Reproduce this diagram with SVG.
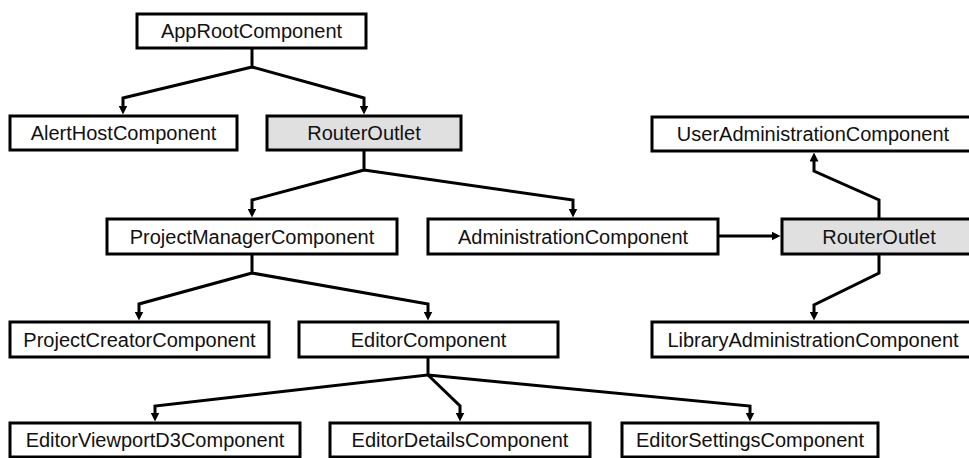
<svg xmlns="http://www.w3.org/2000/svg" width="969" height="458" viewBox="0 0 969 458">
<style>
.box{fill:#fff;stroke:#000;stroke-width:3}
.ro{fill:#e0e0e0;stroke:#000;stroke-width:3}
text{font-family:"Liberation Sans",Arial,sans-serif;font-size:20px;fill:#111;text-anchor:middle;dominant-baseline:central}
.c{fill:none;stroke:#000;stroke-width:3;stroke-linejoin:miter;marker-end:url(#ah)}
</style>
<defs>
<marker id="ah" viewBox="0 0 10 10" markerWidth="9" markerHeight="9" markerUnits="userSpaceOnUse" refX="5" refY="5" orient="auto">
<path d="M0,0 L10,5 L0,10 z" fill="#000"/>
</marker>
</defs>
<rect width="969" height="458" fill="#fff"/>
<g id="connectors">
<polyline class="c" points="252,48 252,67 123,98 123,110"/>
<polyline class="c" points="252,67 364,98 364,110"/>
<polyline class="c" points="364,150 364,170 252,200 252,213"/>
<polyline class="c" points="364,170 573,200 573,213"/>
<polyline class="c" points="718,236 776,236"/>
<polyline class="c" points="879,219 879,200 814,171 814,157"/>
<polyline class="c" points="879,254 879,273 814,305 814,316"/>
<polyline class="c" points="252,254 252,273 139,304 139,316"/>
<polyline class="c" points="252,273 428,304 428,316"/>
<polyline class="c" points="428,357 428,375 155,406 155,417"/>
<polyline class="c" points="428,375 460,406 460,417"/>
<polyline class="c" points="428,375 750,406 750,417"/>
</g>
<g id="appRoot"><rect class="box" x="137" y="14" width="229" height="34"/><text x="251.5" y="31">AppRootComponent</text></g>
<g id="alertHost"><rect class="box" x="10" y="116" width="227" height="34"/><text x="123.5" y="133">AlertHostComponent</text></g>
<g id="routerOutlet1"><rect class="ro" x="267" y="116" width="194" height="34"/><text x="364" y="133">RouterOutlet</text></g>
<g id="userAdmin"><rect class="box" x="652" y="117" width="322" height="34"/><text x="813" y="134">UserAdministrationComponent</text></g>
<g id="projectManager"><rect class="box" x="107" y="219" width="290" height="35"/><text x="252" y="236.5">ProjectManagerComponent</text></g>
<g id="administration"><rect class="box" x="428" y="219" width="290" height="35"/><text x="573" y="236.5">AdministrationComponent</text></g>
<g id="routerOutlet2"><rect class="ro" x="782" y="219" width="194" height="35"/><text x="879" y="236.5">RouterOutlet</text></g>
<g id="projectCreator"><rect class="box" x="10" y="322" width="259" height="35"/><text x="139.5" y="339.5">ProjectCreatorComponent</text></g>
<g id="editor"><rect class="box" x="299" y="322" width="259" height="35"/><text x="428.5" y="339.5">EditorComponent</text></g>
<g id="libraryAdmin"><rect class="box" x="652" y="322" width="322" height="35"/><text x="813" y="339.5">LibraryAdministrationComponent</text></g>
<g id="editorViewport"><rect class="box" x="10" y="423" width="290" height="34"/><text x="155" y="440">EditorViewportD3Component</text></g>
<g id="editorDetails"><rect class="box" x="330" y="423" width="260" height="34"/><text x="460" y="440">EditorDetailsComponent</text></g>
<g id="editorSettings"><rect class="box" x="622" y="423" width="256" height="34"/><text x="750" y="440">EditorSettingsComponent</text></g>
</svg>
